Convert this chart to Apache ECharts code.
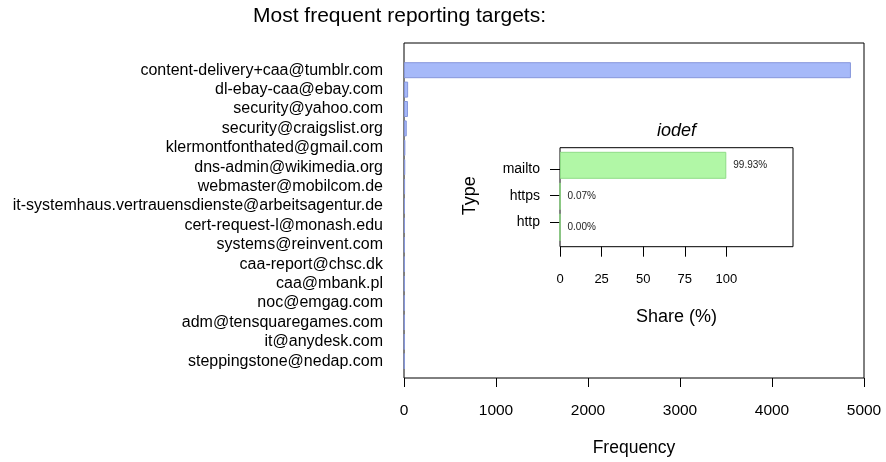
<!DOCTYPE html>
<html><head><meta charset="utf-8">
<script src="https://cdn.jsdelivr.net/npm/echarts@6/dist/echarts.min.js"></script>
<style>html,body{margin:0;padding:0;background:#fff}#c{width:886px;height:462px}</style>
</head><body><div id="c"></div>
<script>
const targets = ["content-delivery+caa@tumblr.com","dl-ebay-caa@ebay.com","security@yahoo.com","security@craigslist.org","klermontfonthated@gmail.com","dns-admin@wikimedia.org","webmaster@mobilcom.de","it-systemhaus.vertrauensdienste@arbeitsagentur.de","cert-request-l@monash.edu","systems@reinvent.com","caa-report@chsc.dk","caa@mbank.pl","noc@emgag.com","adm@tensquaregames.com","it@anydesk.com","steppingstone@nedap.com"];
const frequency = [4858,45,43,30,15,14,12,11,10,9,8,8,7,7,6,6];
const freqTicks = [0,1000,2000,3000,4000,5000];
const types = ["mailto","https","http"];
const share = [99.93,0.07,0.00];
const shareTicks = [0,25,50,75,100];

const FF = "Liberation Sans, Arial, Helvetica, sans-serif";
const chart = echarts.init(document.getElementById('c'), null, {renderer:'canvas'});
chart.setOption({
  animation:false,
  textStyle:{fontFamily:FF},
  title:{text:"Most frequent reporting targets:", left:253, top:6, padding:0,
    textStyle:{fontSize:21, fontWeight:'normal', color:'#000', fontFamily:FF}},
  grid:[
    {left:404, top:43, width:460, height:336, show:true, borderColor:'#000', borderWidth:1, backgroundColor:'transparent'},
    {left:404, top:60.5, width:460, height:310.4},
    {left:560, top:147.7, width:233, height:99, show:true, borderColor:'#000', borderWidth:1, backgroundColor:'#fff'},
    {left:560, top:155.7, width:233, height:80},
    {left:560, top:149.8, width:233, height:93}
  ],
  xAxis:[
    {gridIndex:0, type:'value', min:0, max:5000, interval:1000,
      axisLine:{show:false}, splitLine:{show:false},
      axisTick:{show:true, length:9, lineStyle:{color:'#000'}},
      axisLabel:{margin:25, fontSize:15.5, color:'#000', fontFamily:FF, customValues:freqTicks,
        formatter:v=>String(v)},
      name:'Frequency', nameLocation:'middle', nameGap:61,
      nameTextStyle:{fontSize:17.5, color:'#000', fontFamily:FF}},
    {gridIndex:1, type:'value', min:0, max:5000, show:false},
    {gridIndex:2, type:'value', min:0, max:140,
      axisLine:{show:false}, splitLine:{show:false},
      axisTick:{show:true, length:10, lineStyle:{color:'#000'}, customValues:shareTicks},
      axisLabel:{margin:26, fontSize:13, color:'#000', fontFamily:FF, customValues:shareTicks},
      name:'Share (%)', nameLocation:'middle', nameGap:61,
      nameTextStyle:{fontSize:18, color:'#000', fontFamily:FF}},
    {gridIndex:3, type:'value', min:0, max:140, show:false},
    {gridIndex:4, type:'value', min:0, max:140, show:false}
  ],
  yAxis:[
    {gridIndex:0, type:'value', min:0, max:1, show:false},
    {gridIndex:1, type:'category', inverse:true, data:targets,
      axisLine:{show:false}, axisTick:{show:false},
      axisLabel:{interval:0, margin:21, fontSize:16, color:'#000', fontFamily:FF}},
    {gridIndex:2, type:'value', min:0, max:1, show:false},
    {gridIndex:3, type:'category', inverse:true, data:types,
      axisLine:{show:false},
      axisTick:{show:true, alignWithLabel:true, length:10, lineStyle:{color:'#000'}},
      axisLabel:{interval:0, margin:20, fontSize:14, color:'#000', fontFamily:FF},
      name:'Type', nameLocation:'middle', nameGap:81, nameRotate:90,
      nameTextStyle:{fontSize:18, color:'#000', fontFamily:FF}},
    {gridIndex:4, type:'category', inverse:true, data:types, show:false}
  ],
  series:[
    {type:'bar', xAxisIndex:1, yAxisIndex:1, data:frequency, barWidth:16,
      itemStyle:{color:'#a6b9f9', borderColor:'#8797dc', borderWidth:1}, z:3},
    {type:'bar', xAxisIndex:4, yAxisIndex:4, data:share, barWidth:27,
      itemStyle:{color:'#b1f7a6', borderColor:'#8fdc86', borderWidth:1},
      label:{show:true, position:'right', distance:7, fontSize:10, color:'#222', fontFamily:FF,
        formatter:p=>p.value.toFixed(2)+'%'}, z:5}
  ],
  graphic:[{type:'text', left:657, top:122, style:{text:'iodef', font:'italic 18px '+FF, fill:'#000'}}]
});
</script></body></html>
